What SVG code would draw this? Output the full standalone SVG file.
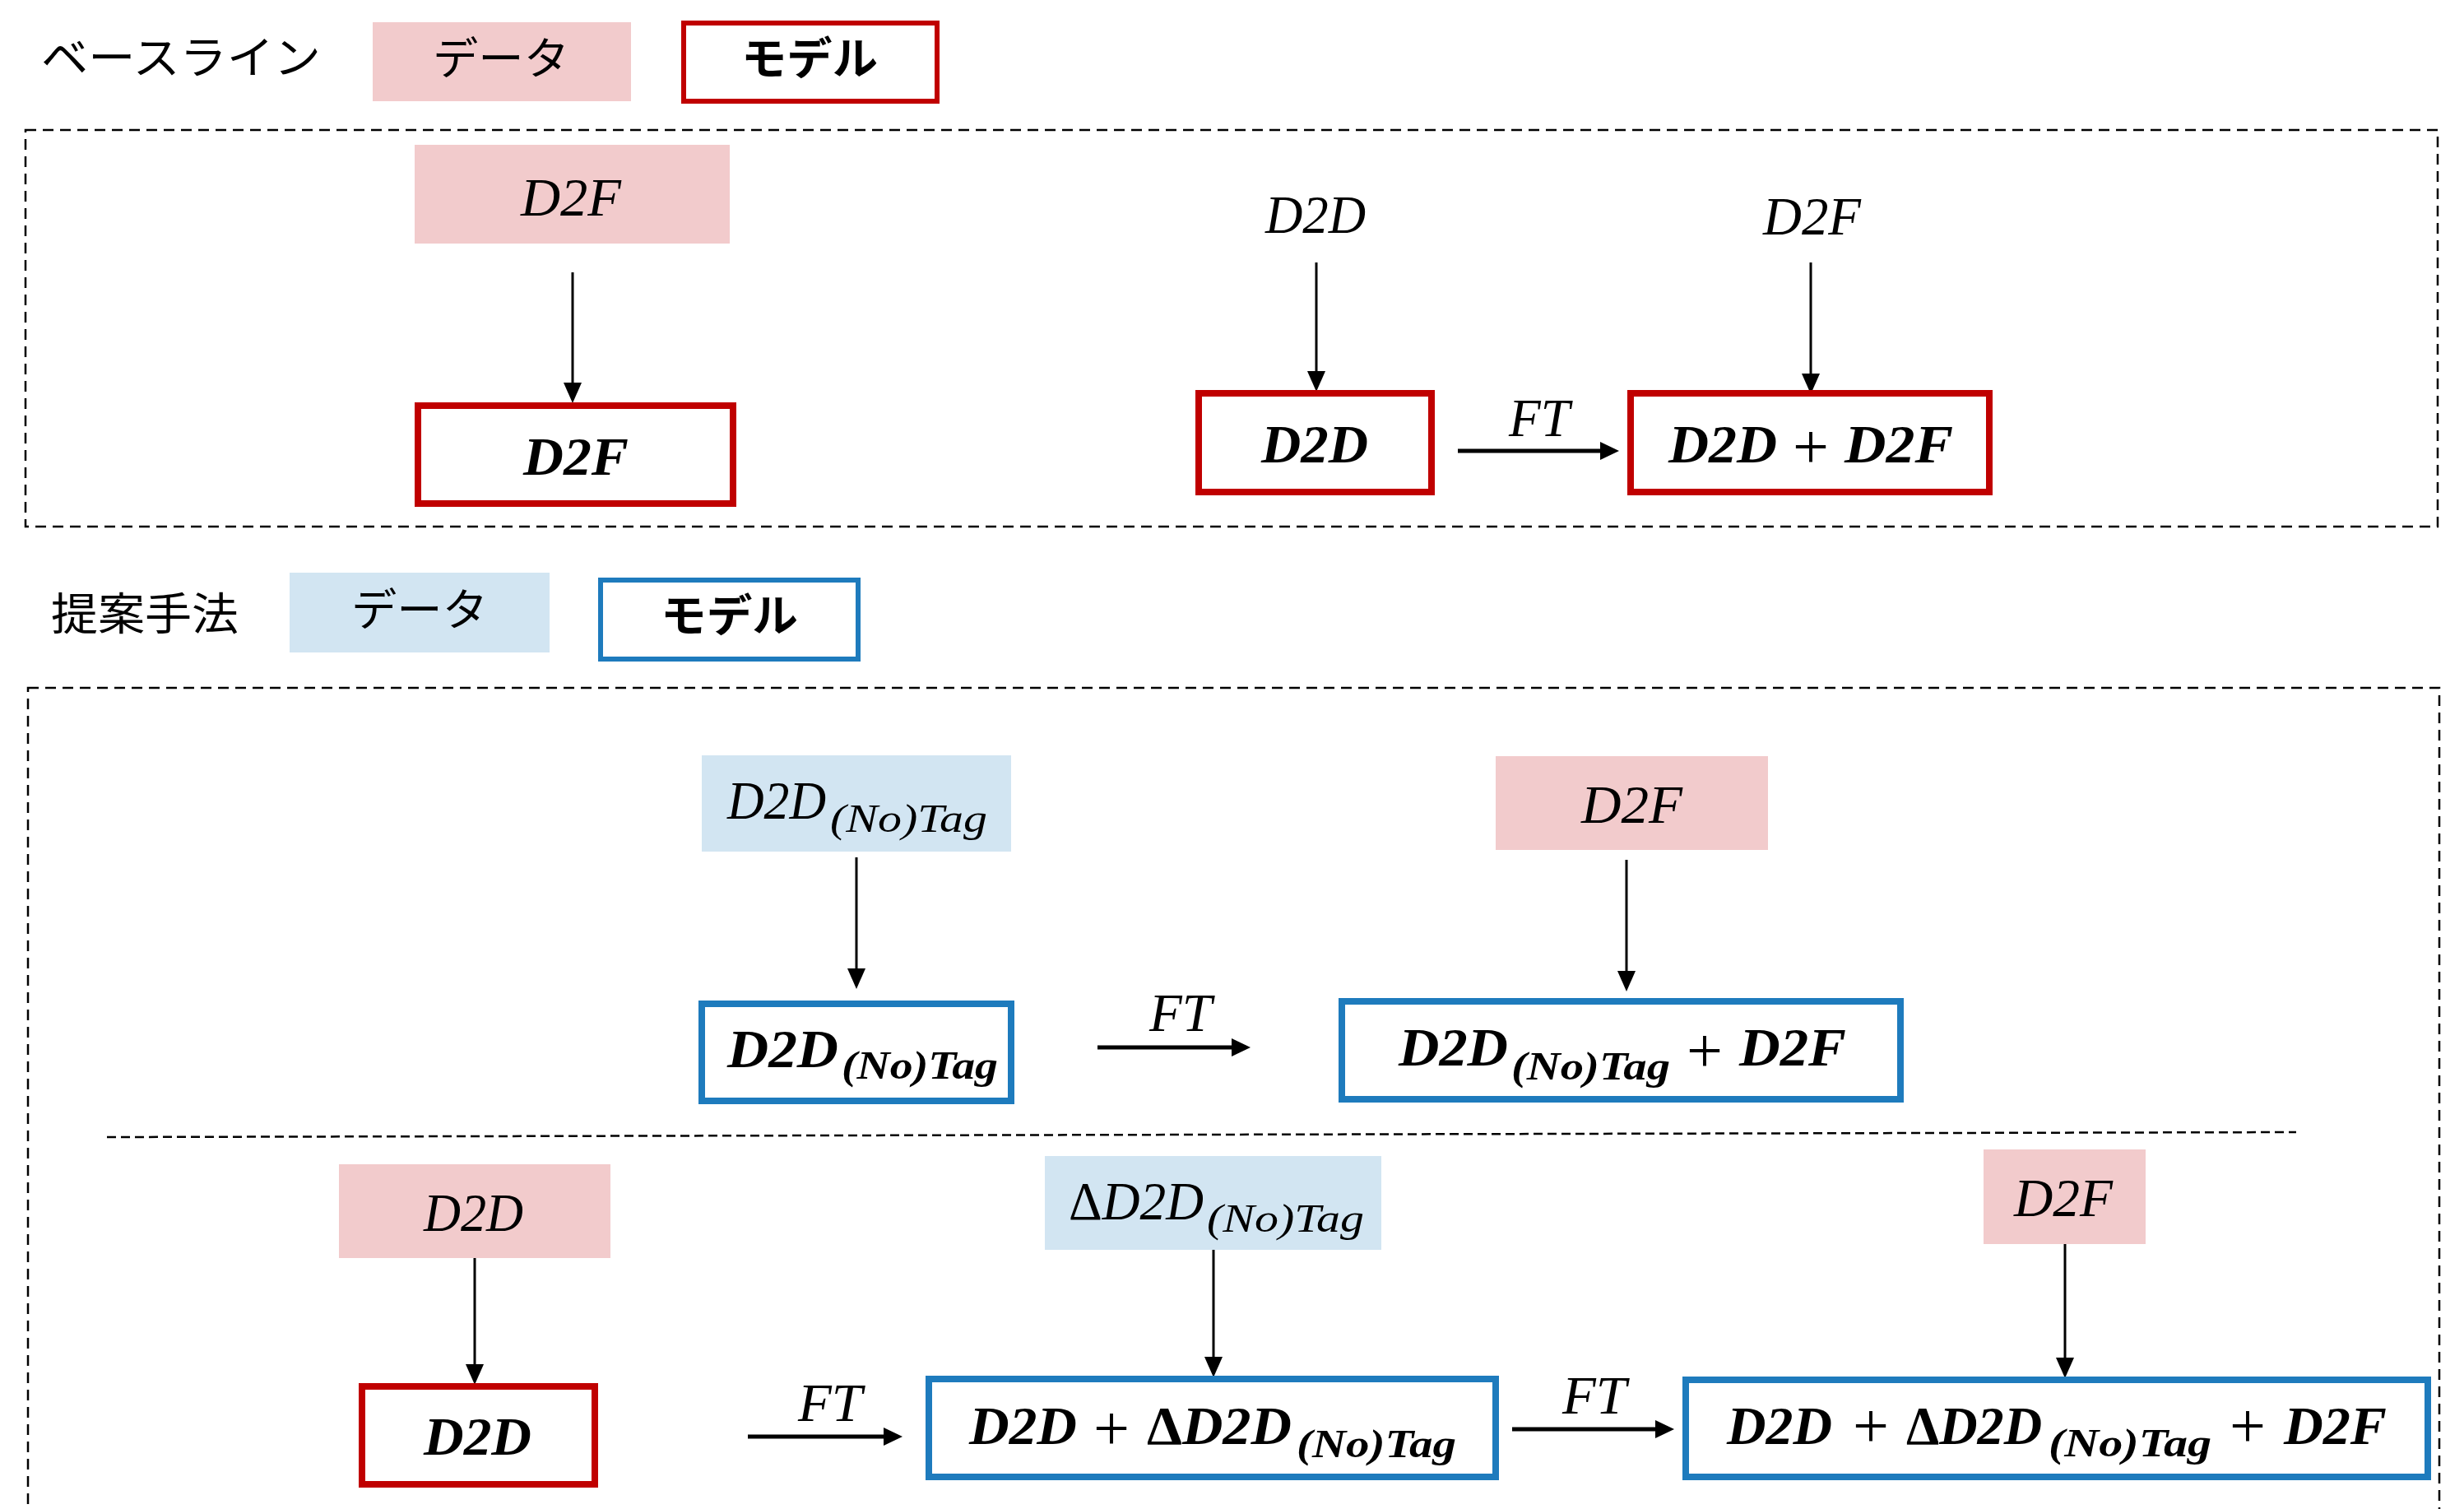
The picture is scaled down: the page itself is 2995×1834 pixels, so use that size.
<svg xmlns="http://www.w3.org/2000/svg" width="2995" height="1834" viewBox="0 0 2995 1834">
<style>
.bg{fill:#fff}
.frame{fill:none;stroke:#000;stroke-width:2.5;stroke-dasharray:13 8}
.sep{fill:none;stroke:#000;stroke-width:2.5;stroke-dasharray:11 6}
.dp{fill:#F2CBCC}
.db{fill:#D2E5F2}
.mr{fill:#fff;stroke:#C00000;stroke-width:8}
.mb{fill:#fff;stroke:#1E7BBD;stroke-width:8}
.lr{fill:#fff;stroke:#C00000;stroke-width:6}
.lb{fill:#fff;stroke:#1E7BBD;stroke-width:6}
.jp{font-family:"Noto Sans CJK JP","Noto Sans",sans-serif;font-size:54px;fill:#000}
.jb{font-weight:bold}
.m{font-family:"Liberation Serif","DejaVu Serif",serif;font-style:italic;font-size:66px;fill:#000}
.b{font-weight:bold}
.s{font-size:48px}
.up{font-style:normal}
.p{font-family:"Liberation Serif","DejaVu Serif",serif;font-size:78px;fill:#000;text-anchor:middle}
.thin{stroke:#000;stroke-width:3;fill:none}
.thick{stroke:#000;stroke-width:5;fill:none}
</style>
<defs>
<marker id="ah" markerUnits="userSpaceOnUse" markerWidth="26" markerHeight="24" refX="12" refY="11" orient="auto" viewBox="0 0 26 22">
<path d="M0,0 L25,11 L0,22 Z" fill="#000"/>
</marker>
<marker id="ahb" markerUnits="userSpaceOnUse" markerWidth="26" markerHeight="24" refX="12" refY="11" orient="auto" viewBox="0 0 26 22">
<path d="M0,0 L23,11 L0,22 Z" fill="#000"/>
</marker>
</defs>
<rect class="bg" x="0" y="0" width="2995" height="1834"/>

<!-- legends -->
<g id="legend-baseline">
<text class="jp" x="50" y="90" textLength="340" lengthAdjust="spacingAndGlyphs">ベースライン</text>
<rect class="dp" x="453" y="27" width="314" height="96"/>
<text class="jp" x="526" y="91" textLength="166" lengthAdjust="spacingAndGlyphs">データ</text>
<rect class="lr" x="831" y="28" width="308" height="95"/>
<text class="jp jb" x="901" y="91" textLength="166" lengthAdjust="spacingAndGlyphs">モデル</text>
</g>
<g id="legend-proposed">
<text class="jp" x="62" y="766" textLength="228" lengthAdjust="spacingAndGlyphs">提案手法</text>
<rect class="db" x="352" y="696" width="316" height="97"/>
<text class="jp" x="427" y="761" textLength="166" lengthAdjust="spacingAndGlyphs">データ</text>
<rect class="lb" x="730" y="705" width="313" height="96"/>
<text class="jp jb" x="803" y="768" textLength="167" lengthAdjust="spacingAndGlyphs">モデル</text>
</g>

<!-- frames -->
<g id="frames">
<rect class="frame" x="31" y="158" width="2932" height="482"/>
<rect class="frame" x="34" y="836" width="2931" height="1030"/>
<line class="sep" x1="130" y1="1382" x2="2791" y2="1376"/>
</g>

<!-- connectors -->
<g id="connectors">
<line class="thin" x1="696" y1="331" x2="696" y2="477" marker-end="url(#ah)"/>
<line class="thin" x1="1600" y1="319" x2="1600" y2="463" marker-end="url(#ah)"/>
<line class="thin" x1="2201" y1="319" x2="2201" y2="466" marker-end="url(#ah)"/>
<line class="thick" x1="1772" y1="548" x2="1957" y2="548" marker-end="url(#ahb)"/>
<text class="m" x="1834" y="530" textLength="74" lengthAdjust="spacingAndGlyphs">FT</text>

<line class="thin" x1="1041" y1="1042" x2="1041" y2="1189" marker-end="url(#ah)"/>
<line class="thin" x1="1977" y1="1045" x2="1977" y2="1192" marker-end="url(#ah)"/>
<line class="thick" x1="1334" y1="1273" x2="1509" y2="1273" marker-end="url(#ahb)"/>
<text class="m" x="1397" y="1253" textLength="76" lengthAdjust="spacingAndGlyphs">FT</text>

<line class="thin" x1="577" y1="1529" x2="577" y2="1670" marker-end="url(#ah)"/>
<line class="thin" x1="1475" y1="1519" x2="1475" y2="1661" marker-end="url(#ah)"/>
<line class="thin" x1="2510" y1="1512" x2="2510" y2="1662" marker-end="url(#ah)"/>
<line class="thick" x1="909" y1="1746" x2="1086" y2="1746" marker-end="url(#ahb)"/>
<text class="m" x="970" y="1727" textLength="78" lengthAdjust="spacingAndGlyphs">FT</text>
<line class="thick" x1="1838" y1="1737" x2="2024" y2="1737" marker-end="url(#ahb)"/>
<text class="m" x="1899" y="1718" textLength="78" lengthAdjust="spacingAndGlyphs">FT</text>
</g>

<!-- baseline section -->
<g id="n-d2f-data">
<rect class="dp" x="504" y="176" width="383" height="120"/>
<text class="m" x="633" y="262" font-size="68" textLength="122" lengthAdjust="spacingAndGlyphs">D2F</text>
</g>
<g id="n-d2f-model">
<rect class="mr" x="508" y="493" width="383" height="119"/>
<text class="m b" x="636" y="577" textLength="128" lengthAdjust="spacingAndGlyphs">D2F</text>
</g>
<g id="n-d2d-plain">
<text class="m" x="1538" y="283" textLength="122" lengthAdjust="spacingAndGlyphs">D2D</text>
</g>
<g id="n-d2f-plain">
<text class="m" x="2143" y="285" textLength="119" lengthAdjust="spacingAndGlyphs">D2F</text>
</g>
<g id="n-d2d-model">
<rect class="mr" x="1457" y="478" width="283" height="120"/>
<text class="m b" x="1533" y="562" textLength="130" lengthAdjust="spacingAndGlyphs">D2D</text>
</g>
<g id="n-d2d-d2f-model">
<rect class="mr" x="1982" y="478" width="436" height="120"/>
<text class="m b" x="2028" y="562" textLength="132" lengthAdjust="spacingAndGlyphs">D2D</text>
<text class="p" x="2201" y="569">+</text>
<text class="m b" x="2242" y="562" textLength="132" lengthAdjust="spacingAndGlyphs">D2F</text>
</g>

<!-- proposed section row 1 -->
<g id="n-d2dnotag-data">
<rect class="db" x="853" y="918" width="376" height="117"/>
<text class="m" x="884" y="995" textLength="120" lengthAdjust="spacingAndGlyphs">D2D</text>
<text class="m s" x="1009" y="1011" textLength="191" lengthAdjust="spacingAndGlyphs">(No)Tag</text>
</g>
<g id="n-d2f-data2">
<rect class="dp" x="1818" y="919" width="331" height="114"/>
<text class="m" x="1922" y="1000" textLength="123" lengthAdjust="spacingAndGlyphs">D2F</text>
</g>
<g id="n-d2dnotag-model">
<rect class="mb" x="853" y="1220" width="376" height="118"/>
<text class="m b" x="884" y="1297" textLength="135" lengthAdjust="spacingAndGlyphs">D2D</text>
<text class="m b s" x="1023" y="1311" textLength="190" lengthAdjust="spacingAndGlyphs">(No)Tag</text>
</g>
<g id="n-d2dnotag-d2f-model">
<rect class="mb" x="1631" y="1217" width="679" height="119"/>
<text class="m b" x="1700" y="1295" textLength="133" lengthAdjust="spacingAndGlyphs">D2D</text>
<text class="m b s" x="1837" y="1312" textLength="193" lengthAdjust="spacingAndGlyphs">(No)Tag</text>
<text class="p" x="2072" y="1303">+</text>
<text class="m b" x="2114" y="1295" textLength="130" lengthAdjust="spacingAndGlyphs">D2F</text>
</g>

<!-- proposed section row 2 -->
<g id="n-d2d-data">
<rect class="dp" x="412" y="1415" width="330" height="114"/>
<text class="m" x="515" y="1496" textLength="121" lengthAdjust="spacingAndGlyphs">D2D</text>
</g>
<g id="n-d2d-model2">
<rect class="mr" x="440" y="1685" width="283" height="119"/>
<text class="m b" x="515" y="1768" textLength="131" lengthAdjust="spacingAndGlyphs">D2D</text>
</g>
<g id="n-delta-data">
<rect class="db" x="1270" y="1405" width="409" height="114"/>
<text class="m" x="1299" y="1482" textLength="164" lengthAdjust="spacingAndGlyphs"><tspan class="up">Δ</tspan>D2D</text>
<text class="m s" x="1467" y="1497" textLength="191" lengthAdjust="spacingAndGlyphs">(No)Tag</text>
</g>
<g id="n-d2d-delta-model">
<rect class="mb" x="1129" y="1676" width="689" height="119"/>
<text class="m b" x="1178" y="1755" textLength="131" lengthAdjust="spacingAndGlyphs">D2D</text>
<text class="p" x="1351" y="1762">+</text>
<text class="m b" x="1394" y="1755" textLength="176" lengthAdjust="spacingAndGlyphs"><tspan class="up">Δ</tspan>D2D</text>
<text class="m b s" x="1576" y="1771" textLength="194" lengthAdjust="spacingAndGlyphs">(No)Tag</text>
</g>
<g id="n-d2f-data3">
<rect class="dp" x="2411" y="1397" width="197" height="115"/>
<text class="m" x="2448" y="1478" textLength="120" lengthAdjust="spacingAndGlyphs">D2F</text>
</g>
<g id="n-final-model">
<rect class="mb" x="2049" y="1677" width="902" height="118"/>
<text class="m b" x="2099" y="1755" textLength="128" lengthAdjust="spacingAndGlyphs">D2D</text>
<text class="p" x="2274" y="1759">+</text>
<text class="m b" x="2317" y="1755" textLength="165" lengthAdjust="spacingAndGlyphs"><tspan class="up">Δ</tspan>D2D</text>
<text class="m b s" x="2490" y="1770" textLength="198" lengthAdjust="spacingAndGlyphs">(No)Tag</text>
<text class="p" x="2732" y="1759">+</text>
<text class="m b" x="2776" y="1755" textLength="125" lengthAdjust="spacingAndGlyphs">D2F</text>
</g>
</svg>
